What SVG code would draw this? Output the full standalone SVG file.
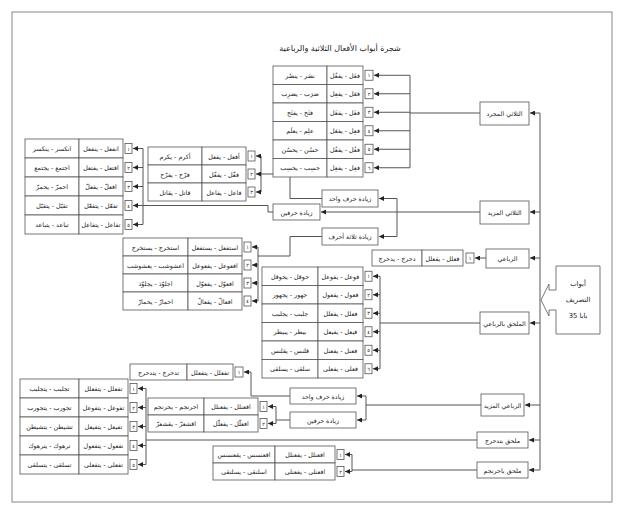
<svg xmlns="http://www.w3.org/2000/svg" width="625" height="514" viewBox="0 0 625 514">
<defs>
<marker id="ar" viewBox="0 0 6 6" refX="6" refY="3" markerWidth="5" markerHeight="5" orient="auto"><path d="M0,0 L6,3 L0,6 z" fill="#222"/></marker>
<style>
.c{fill:#fff;stroke:#555;stroke-width:0.8}
.b{fill:#fff;stroke:#555;stroke-width:0.8}
.t{font-family:"DejaVu Sans",sans-serif;font-size:6.3px;fill:#222;text-anchor:middle;dominant-baseline:central}
.n{font-family:"DejaVu Sans",sans-serif;font-size:5px;fill:#222;text-anchor:middle;dominant-baseline:central}
.k{font-family:"DejaVu Sans",sans-serif;font-size:6.8px;fill:#222;text-anchor:middle;dominant-baseline:central}
.ln{fill:none;stroke:#555;stroke-width:1}
.a{fill:none;stroke:#555;stroke-width:1;marker-end:url(#ar)}
</style>
</defs>
<rect x="0" y="0" width="625" height="514" fill="#fff"/>
<rect x="12" y="12" width="600" height="490" fill="none" stroke="#888" stroke-width="1"/>
<text x="340" y="48" class="k" style="font-size:8px">شجرة أبواب الأفعال الثلاثية والرباعية</text>

<g id="connectors">
<path class="ln" d="M540,113 V470"/>
<path class="a" d="M540,113 H530"/>
<path class="a" d="M540,212 H530"/>
<path class="a" d="M540,258 H530"/>
<path class="a" d="M540,323 H530"/>
<path class="a" d="M540,405 H525"/>
<path class="a" d="M540,440 H529"/>
<path class="a" d="M540,470 H529"/>
<!-- C1 -->
<path class="ln" d="M480,113 H410 M410,75.25 V167.75"/>
<path class="a" d="M410,75.25 H374"/><path class="a" d="M410,93.75 H374"/><path class="a" d="M410,112.25 H374"/>
<path class="a" d="M410,130.75 H374"/><path class="a" d="M410,149.25 H374"/><path class="a" d="M410,167.75 H374"/>
<!-- C2 -->
<path class="a" d="M480,212 H321"/>
<path class="ln" d="M397,198.5 V236.5"/>
<path class="a" d="M397,198.5 H379"/><path class="a" d="M397,236.5 H379"/>
<path class="ln" d="M322,198.5 H290 V174 H261 M261,156 V192"/>
<path class="a" d="M261,156 H256"/><path class="a" d="M261,174 H256"/><path class="a" d="M261,192 H256"/>
<path class="ln" d="M273,212 H268 V205.5 H143 M143,148.5 V224.5"/>
<path class="a" d="M143,148.5 H133"/><path class="a" d="M143,167.5 H133"/><path class="a" d="M143,186.5 H133"/><path class="a" d="M143,205.5 H133"/><path class="a" d="M143,224.5 H133"/>
<path class="ln" d="M322,236.5 H290 V256 H258 M258,247 V301"/>
<path class="a" d="M258,247 H252"/><path class="a" d="M258,265 H252"/><path class="a" d="M258,283 H252"/><path class="a" d="M258,301 H252"/>
<!-- C3 -->
<path class="a" d="M486,258 H475"/>
<!-- C4 -->
<path class="ln" d="M480,323 H380 M380,276.25 V368.75"/>
<path class="a" d="M380,276.25 H373"/><path class="a" d="M380,294.75 H373"/><path class="a" d="M380,313.25 H373"/>
<path class="a" d="M380,331.75 H373"/><path class="a" d="M380,350.25 H373"/><path class="a" d="M380,368.75 H373"/>
<!-- C5 -->
<path class="ln" d="M481,405 H366 M366,396 V420"/>
<path class="a" d="M366,396 H357"/><path class="a" d="M366,420 H357"/>
<path class="a" d="M290,396 H251 V372 H244"/>
<path class="ln" d="M290,420 H276 M276,406.5 V423.5"/>
<path class="a" d="M276,406.5 H268"/><path class="a" d="M276,423.5 H268"/>
<!-- C6 -->
<path class="ln" d="M477,440 H146 M146,388.5 V464.5"/>
<path class="a" d="M146,388.5 H138"/><path class="a" d="M146,407.5 H138"/><path class="a" d="M146,426.5 H138"/><path class="a" d="M146,445.5 H138"/><path class="a" d="M146,464.5 H138"/>
<!-- C7 -->
<path class="ln" d="M477,470 H352 M352,454.5 V471.5"/>
<path class="a" d="M352,454.5 H345"/><path class="a" d="M352,471.5 H345"/>
</g>

<g id="root">
<polygon class="b" points="556,266 600,266 600,334 556,334 556,310 549,310 549,316 541,300 549,284 549,290 556,290"/>
<text x="578" y="284" class="k">أبواب</text>
<text x="578" y="300" class="k">التصريف</text>
<text x="578" y="316" class="k">35 بابا</text>
</g>

<g id="cat1"><rect class="b" x="480" y="102" width="49" height="23"/><text class="t" x="504.5" y="113.5">الثلاثي المجرد</text></g>
<g id="cat2"><rect class="b" x="480" y="201" width="49" height="23"/><text class="t" x="504.5" y="212.5">الثلاثي المزيد</text></g>
<g id="cat3"><rect class="b" x="486" y="249" width="43" height="19"/><text class="t" x="507.5" y="258.5">الرباعي</text></g>
<g id="cat4"><rect class="b" x="480" y="312" width="49" height="22"/><text class="t" x="504.5" y="323">الملحق بالرباعي</text></g>
<g id="cat5"><rect class="b" x="481" y="394" width="43" height="22"/><text class="t" x="502.5" y="405">الرباعي المزيد</text></g>
<g id="cat6"><rect class="b" x="477" y="432" width="51" height="16"/><text class="t" x="502.5" y="440">ملحق بتدحرج</text></g>
<g id="cat7"><rect class="b" x="477" y="462" width="51" height="16"/><text class="t" x="502.5" y="470">ملحق باحرنجم</text></g>

<g id="sub1"><rect class="b" x="322" y="190" width="56" height="17"/><text class="t" x="350" y="198.5">زيادة حرف واحد</text></g>
<g id="sub2"><rect class="b" x="273" y="204" width="47" height="16"/><text class="t" x="296.5" y="212">زيادة حرفين</text></g>
<g id="sub3"><rect class="b" x="322" y="228" width="56" height="17"/><text class="t" x="350" y="236.5">زيادة ثلاثة أحرف</text></g>
<g id="sub4"><rect class="b" x="290" y="388" width="66" height="16"/><text class="t" x="323" y="396">زيادة حرف واحد</text></g>
<g id="sub5"><rect class="b" x="290" y="412" width="66" height="16"/><text class="t" x="323" y="420">زيادة حرفين</text></g>

<g id="bare">
<rect class="c" x="273" y="66" width="54" height="18.5"/><rect class="c" x="327" y="66" width="36" height="18.5"/><rect class="b" x="365" y="70.25" width="8" height="10"/>
<text class="t" x="300" y="75.25">نصَر - ينصُر</text><text class="t" x="345" y="75.25">فعَل - يفعُل</text><text class="n" x="369" y="75.25">١</text>
<rect class="c" x="273" y="84.5" width="54" height="18.5"/><rect class="c" x="327" y="84.5" width="36" height="18.5"/><rect class="b" x="365" y="88.75" width="8" height="10"/>
<text class="t" x="300" y="93.75">ضرَب - يضرِب</text><text class="t" x="345" y="93.75">فعَل - يفعِل</text><text class="n" x="369" y="93.75">٢</text>
<rect class="c" x="273" y="103" width="54" height="18.5"/><rect class="c" x="327" y="103" width="36" height="18.5"/><rect class="b" x="365" y="107.25" width="8" height="10"/>
<text class="t" x="300" y="112.25">فتَح - يفتَح</text><text class="t" x="345" y="112.25">فعَل - يفعَل</text><text class="n" x="369" y="112.25">٣</text>
<rect class="c" x="273" y="121.5" width="54" height="18.5"/><rect class="c" x="327" y="121.5" width="36" height="18.5"/><rect class="b" x="365" y="125.75" width="8" height="10"/>
<text class="t" x="300" y="130.75">علِم - يعلَم</text><text class="t" x="345" y="130.75">فعِل - يفعَل</text><text class="n" x="369" y="130.75">٤</text>
<rect class="c" x="273" y="140" width="54" height="18.5"/><rect class="c" x="327" y="140" width="36" height="18.5"/><rect class="b" x="365" y="144.25" width="8" height="10"/>
<text class="t" x="300" y="149.25">حسُن - يحسُن</text><text class="t" x="345" y="149.25">فعُل - يفعُل</text><text class="n" x="369" y="149.25">٥</text>
<rect class="c" x="273" y="158.5" width="54" height="18.5"/><rect class="c" x="327" y="158.5" width="36" height="18.5"/><rect class="b" x="365" y="162.75" width="8" height="10"/>
<text class="t" x="300" y="167.75">حسِب - يحسِب</text><text class="t" x="345" y="167.75">فعِل - يفعِل</text><text class="n" x="369" y="167.75">٦</text>
</g>

<g id="mazid1">
<rect class="c" x="148" y="147" width="54" height="18"/><rect class="c" x="202" y="147" width="44" height="18"/><rect class="b" x="248" y="151" width="7" height="10"/>
<text class="t" x="175" y="156">أكرم - يكرم</text><text class="t" x="224" y="156">أفعل - يفعل</text><text class="n" x="251.5" y="156">١</text>
<rect class="c" x="148" y="165" width="54" height="18"/><rect class="c" x="202" y="165" width="44" height="18"/><rect class="b" x="248" y="169" width="7" height="10"/>
<text class="t" x="175" y="174">فرّح - يفرّح</text><text class="t" x="224" y="174">فعّل - يفعّل</text><text class="n" x="251.5" y="174">٢</text>
<rect class="c" x="148" y="183" width="54" height="18"/><rect class="c" x="202" y="183" width="44" height="18"/><rect class="b" x="248" y="187" width="7" height="10"/>
<text class="t" x="175" y="192">قاتل - يقاتل</text><text class="t" x="224" y="192">فاعل - يفاعل</text><text class="n" x="251.5" y="192">٣</text>
</g>

<g id="mazid2">
<rect class="c" x="25" y="139" width="54" height="19"/><rect class="c" x="79" y="139" width="44" height="19"/><rect class="b" x="125" y="143.5" width="7" height="10"/>
<text class="t" x="52" y="148.5">انكسر - ينكسر</text><text class="t" x="101" y="148.5">انفعل - ينفعل</text><text class="n" x="128.5" y="148.5">١</text>
<rect class="c" x="25" y="158" width="54" height="19"/><rect class="c" x="79" y="158" width="44" height="19"/><rect class="b" x="125" y="162.5" width="7" height="10"/>
<text class="t" x="52" y="167.5">اجتمع - يجتمع</text><text class="t" x="101" y="167.5">افتعل - يفتعل</text><text class="n" x="128.5" y="167.5">٢</text>
<rect class="c" x="25" y="177" width="54" height="19"/><rect class="c" x="79" y="177" width="44" height="19"/><rect class="b" x="125" y="181.5" width="7" height="10"/>
<text class="t" x="52" y="186.5">احمرّ - يحمرّ</text><text class="t" x="101" y="186.5">افعلّ - يفعلّ</text><text class="n" x="128.5" y="186.5">٣</text>
<rect class="c" x="25" y="196" width="54" height="19"/><rect class="c" x="79" y="196" width="44" height="19"/><rect class="b" x="125" y="200.5" width="7" height="10"/>
<text class="t" x="52" y="205.5">تقبّل - يتقبّل</text><text class="t" x="101" y="205.5">تفعّل - يتفعّل</text><text class="n" x="128.5" y="205.5">٤</text>
<rect class="c" x="25" y="215" width="54" height="19"/><rect class="c" x="79" y="215" width="44" height="19"/><rect class="b" x="125" y="219.5" width="7" height="10"/>
<text class="t" x="52" y="224.5">تباعد - يتباعد</text><text class="t" x="101" y="224.5">تفاعل - يتفاعل</text><text class="n" x="128.5" y="224.5">٥</text>
</g>

<g id="mazid3">
<rect class="c" x="123" y="238" width="65" height="18"/><rect class="c" x="188" y="238" width="54" height="18"/><rect class="b" x="244" y="242" width="7" height="10"/>
<text class="t" x="155.5" y="247">استخرج - يستخرج</text><text class="t" x="215" y="247">استفعل - يستفعل</text><text class="n" x="247.5" y="247">١</text>
<rect class="c" x="123" y="256" width="65" height="18"/><rect class="c" x="188" y="256" width="54" height="18"/><rect class="b" x="244" y="260" width="7" height="10"/>
<text class="t" x="155.5" y="265">اعشوشب - يعشوشب</text><text class="t" x="215" y="265">افعوعل - يفعوعل</text><text class="n" x="247.5" y="265">٢</text>
<rect class="c" x="123" y="274" width="65" height="18"/><rect class="c" x="188" y="274" width="54" height="18"/><rect class="b" x="244" y="278" width="7" height="10"/>
<text class="t" x="155.5" y="283">اجلوّذ - يجلوّذ</text><text class="t" x="215" y="283">افعوّل - يفعوّل</text><text class="n" x="247.5" y="283">٣</text>
<rect class="c" x="123" y="292" width="65" height="18"/><rect class="c" x="188" y="292" width="54" height="18"/><rect class="b" x="244" y="296" width="7" height="10"/>
<text class="t" x="155.5" y="301">احمارّ - يحمارّ</text><text class="t" x="215" y="301">افعالّ - يفعالّ</text><text class="n" x="247.5" y="301">٤</text>
</g>

<g id="quad">
<rect class="c" x="372" y="250" width="50" height="16"/><rect class="c" x="422" y="250" width="41" height="16"/><rect class="b" x="466" y="253" width="8" height="10"/>
<text class="t" x="397" y="258">دحرج - يدحرج</text><text class="t" x="442.5" y="258">فعلل - يفعلل</text><text class="n" x="470" y="258">١</text>
</g>

<g id="mulhaq">
<rect class="c" x="262" y="267" width="56" height="18.5"/><rect class="c" x="318" y="267" width="45" height="18.5"/><rect class="b" x="365" y="271.25" width="7" height="10"/>
<text class="t" x="290" y="276.25">حوقل - يحوقل</text><text class="t" x="340.5" y="276.25">فوعل - يفوعل</text><text class="n" x="368.5" y="276.25">١</text>
<rect class="c" x="262" y="285.5" width="56" height="18.5"/><rect class="c" x="318" y="285.5" width="45" height="18.5"/><rect class="b" x="365" y="289.75" width="7" height="10"/>
<text class="t" x="290" y="294.75">جهور - يجهور</text><text class="t" x="340.5" y="294.75">فعول - يفعول</text><text class="n" x="368.5" y="294.75">٢</text>
<rect class="c" x="262" y="304" width="56" height="18.5"/><rect class="c" x="318" y="304" width="45" height="18.5"/><rect class="b" x="365" y="308.25" width="7" height="10"/>
<text class="t" x="290" y="313.25">جلبب - يجلبب</text><text class="t" x="340.5" y="313.25">فعلل - يفعلل</text><text class="n" x="368.5" y="313.25">٣</text>
<rect class="c" x="262" y="322.5" width="56" height="18.5"/><rect class="c" x="318" y="322.5" width="45" height="18.5"/><rect class="b" x="365" y="326.75" width="7" height="10"/>
<text class="t" x="290" y="331.75">بيطر - يبيطر</text><text class="t" x="340.5" y="331.75">فيعل - يفيعل</text><text class="n" x="368.5" y="331.75">٤</text>
<rect class="c" x="262" y="341" width="56" height="18.5"/><rect class="c" x="318" y="341" width="45" height="18.5"/><rect class="b" x="365" y="345.25" width="7" height="10"/>
<text class="t" x="290" y="350.25">قلنس - يقلنس</text><text class="t" x="340.5" y="350.25">فعنل - يفعنل</text><text class="n" x="368.5" y="350.25">٥</text>
<rect class="c" x="262" y="359.5" width="56" height="18.5"/><rect class="c" x="318" y="359.5" width="45" height="18.5"/><rect class="b" x="365" y="363.75" width="7" height="10"/>
<text class="t" x="290" y="368.75">سلقى - يسلقى</text><text class="t" x="340.5" y="368.75">فعلى - يفعلى</text><text class="n" x="368.5" y="368.75">٦</text>
</g>

<g id="qmazid1">
<rect class="c" x="130" y="364" width="57" height="16"/><rect class="c" x="187" y="364" width="46" height="16"/><rect class="b" x="235" y="367" width="8" height="10"/>
<text class="t" x="158.5" y="372">تدحرج - يتدحرج</text><text class="t" x="210" y="372">تفعلل - يتفعلل</text><text class="n" x="239" y="372">١</text>
</g>

<g id="qmazid2">
<rect class="c" x="148" y="398" width="56" height="17"/><rect class="c" x="204" y="398" width="54" height="17"/><rect class="b" x="260" y="401.5" width="7" height="10"/>
<text class="t" x="176" y="406.5">احرنجم - يحرنجم</text><text class="t" x="231" y="406.5">افعنلل - يفعنلل</text><text class="n" x="263.5" y="406.5">١</text>
<rect class="c" x="148" y="415" width="56" height="17"/><rect class="c" x="204" y="415" width="54" height="17"/><rect class="b" x="260" y="418.5" width="7" height="10"/>
<text class="t" x="176" y="423.5">اقشعرّ - يقشعرّ</text><text class="t" x="231" y="423.5">افعلّل - يفعلّل</text><text class="n" x="263.5" y="423.5">٢</text>
</g>

<g id="mulhaq-tadahraj">
<rect class="c" x="20" y="379" width="59" height="19"/><rect class="c" x="79" y="379" width="49" height="19"/><rect class="b" x="130" y="383.5" width="7" height="10"/>
<text class="t" x="49.5" y="388.5">تجلبب - يتجلبب</text><text class="t" x="103.5" y="388.5">تفعلل - يتفعلل</text><text class="n" x="133.5" y="388.5">١</text>
<rect class="c" x="20" y="398" width="59" height="19"/><rect class="c" x="79" y="398" width="49" height="19"/><rect class="b" x="130" y="402.5" width="7" height="10"/>
<text class="t" x="49.5" y="407.5">تجورب - يتجورب</text><text class="t" x="103.5" y="407.5">تفوعل - يتفوعل</text><text class="n" x="133.5" y="407.5">٢</text>
<rect class="c" x="20" y="417" width="59" height="19"/><rect class="c" x="79" y="417" width="49" height="19"/><rect class="b" x="130" y="421.5" width="7" height="10"/>
<text class="t" x="49.5" y="426.5">تشيطن - يتشيطن</text><text class="t" x="103.5" y="426.5">تفيعل - يتفيعل</text><text class="n" x="133.5" y="426.5">٣</text>
<rect class="c" x="20" y="436" width="59" height="19"/><rect class="c" x="79" y="436" width="49" height="19"/><rect class="b" x="130" y="440.5" width="7" height="10"/>
<text class="t" x="49.5" y="445.5">ترهوك - يترهوك</text><text class="t" x="103.5" y="445.5">تفعول - يتفعول</text><text class="n" x="133.5" y="445.5">٤</text>
<rect class="c" x="20" y="455" width="59" height="19"/><rect class="c" x="79" y="455" width="49" height="19"/><rect class="b" x="130" y="459.5" width="7" height="10"/>
<text class="t" x="49.5" y="464.5">تسلقى - يتسلقى</text><text class="t" x="103.5" y="464.5">تفعلى - يتفعلى</text><text class="n" x="133.5" y="464.5">٥</text>
</g>

<g id="mulhaq-ihranjam">
<rect class="c" x="213" y="446" width="62" height="17"/><rect class="c" x="275" y="446" width="60" height="17"/><rect class="b" x="337" y="449.5" width="7" height="10"/>
<text class="t" x="244" y="454.5">اقعنسس - يقعنسس</text><text class="t" x="305" y="454.5">افعنلل - يفعنلل</text><text class="n" x="340.5" y="454.5">١</text>
<rect class="c" x="213" y="463" width="62" height="17"/><rect class="c" x="275" y="463" width="60" height="17"/><rect class="b" x="337" y="466.5" width="7" height="10"/>
<text class="t" x="244" y="471.5">اسلنقى - يسلنقى</text><text class="t" x="305" y="471.5">افعنلى - يفعنلى</text><text class="n" x="340.5" y="471.5">٢</text>
</g>
</svg>
